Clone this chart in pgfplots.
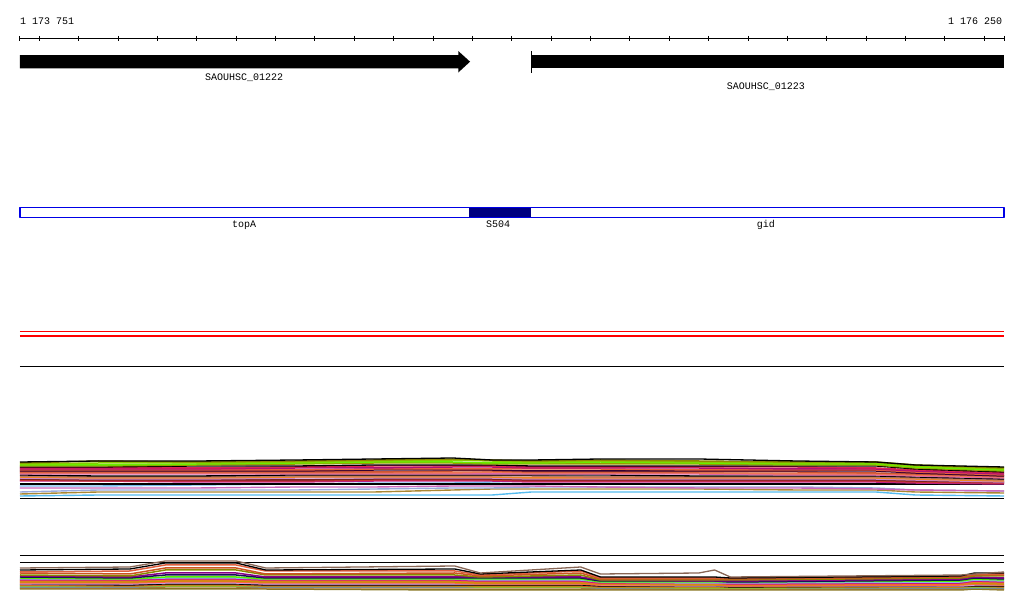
\documentclass[border=0pt]{standalone}
\usepackage{pgfplots}
\pgfplotsset{compat=1.18}
\usepackage{pgfplotstable}
\usepackage{fontspec}
\newfontfamily\lbl{Liberation Mono}

% x = genomic position - 1173750 (so 1 = 1 173 751, 2500 = 1 176 250); y = track row (pixels, top down)
\pgfplotstableread{
x    a1  a2  a3  a4  a5  a6  a7  a8  a9  a10 a11 a12 a13 a14 a15 a16 a17 a18 a19 a20 a21 a22 a23 a24 a25 a26
1    462 463 464 465 466 467 468 469 470 471 472 473 474 475 476 477 478 479 480 481 484 486 492 494 496 488
200  461 461 463 465 466 467 468 469 470 471 472 473 474 476 477 478 479 480 481 481 484 486 490 492 495 488
450  461 462 463 464 465 466 468 469 470 471 472 473 474 476 477 478 479 480 481 482 484 485 490 492 495 488
700  460 461 462 463 464 466 467 468 470 471 472 473 474 475 476 477 478 480 481 482 484 484 490 492 495 487
900  459 460 461 462 463 465 466 468 469 470 472 473 474 475 476 477 478 479 480 481 484 483 489 492 495 487
1100 458 459 460 462 463 465 466 467 469 470 471 473 474 475 476 477 478 479 480 481 484 483 488 490 495 486
1200 460 460 461 463 464 465 466 467 469 470 471 472 474 475 476 477 478 479 480 481 484 482 488 489 495 486
1300 460 461 462 463 464 466 467 468 469 471 472 473 474 475 476 478 479 480 481 482 484 481 487 489 492 486
1475 459 460 461 462 464 466 467 468 469 471 472 473 474 475 477 478 479 480 481 482 484 481 487 489 492 487
1725 459 461 462 463 464 466 467 468 470 471 472 473 474 476 477 478 479 480 481 482 484 481 487 489 492 488
1975 461 462 463 464 465 466 467 469 470 471 472 474 475 476 477 478 479 480 481 482 484 481 487 490 492 488
2175 462 462 463 464 465 466 468 469 470 471 473 474 475 476 477 478 479 480 481 482 484 481 488 490 492 489
2275 465 465 466 467 468 469 470 471 472 473 474 475 476 477 478 479 480 481 482 483 484 482 490 492 495 490
2500 467 468 469 470 471 472 473 474 475 476 476 477 478 479 480 481 482 482 483 484 484 483 491 493 496 491
}\trackA

\pgfplotstableread{
x    b1  b2  b3  b4  b5  b6  b7  b8  b9  b10 b11 b12 b13 b14 b15 b16 b17 b18 b19 b20
1    568 570 572 573 575 576 577 578 579 580 581 582 583 584 584 585 586 587 588 589
280  567 569 571 574 576 577 578 579 579 580 581 582 583 584 585 586 586 587 588 589
370  561 563 565 568 570 573 575 577 578 579 580 581 582 583 584 585 586 586 587 589
550  561 563 565 568 570 573 575 577 578 579 580 581 582 583 584 585 586 586 587 589
625  568 570 571 574 575 577 578 579 579 580 581 582 583 584 585 586 586 587 588 589
1105 566 569 571 573 575 577 578 579 579 580 581 582 583 584 585 586 586 587 588 590
1170 573 574 575 576 577 577 578 579 580 581 582 583 584 584 585 586 587 587 588 590
1425 567 570 571 573 575 577 578 579 580 581 582 583 584 584 585 586 587 587 588 590
1475 574 577 578 579 580 580 581 582 582 583 584 584 585 585 586 587 587 588 589 590
1725 573 577 578 579 580 581 581 582 583 583 584 585 585 586 586 587 588 588 589 590
1765 570 577 578 579 580 581 581 582 583 583 584 585 585 586 586 587 588 588 589 590
1805 577 578 578 579 580 581 582 582 583 584 585 585 586 586 587 587 588 588 589 590
2390 575 576 576 577 578 579 580 581 582 583 584 584 585 586 586 587 587 588 589 590
2425 574 573 574 575 576 577 578 579 580 581 582 583 584 585 586 586 587 588 588 589
2500 572 573 574 575 576 578 579 580 581 582 583 584 585 585 586 587 587 588 589 590
}\trackB

\definecolor{fblue}{RGB}{0,0,230}
\definecolor{fnavy}{RGB}{0,0,128}
\definecolor{fred}{RGB}{255,0,0}
\definecolor{cA2}{HTML}{8C8C00}
\definecolor{cA3}{HTML}{88CC00}
\definecolor{cA4}{HTML}{66EE00}
\definecolor{cA5}{HTML}{999900}
\definecolor{cA7}{HTML}{DD2255}
\definecolor{cA8}{HTML}{AA1177}
\definecolor{cA9}{HTML}{E8603C}
\definecolor{cA10}{HTML}{330033}
\definecolor{cA11}{HTML}{CC5533}
\definecolor{cA12}{HTML}{EE7755}
\definecolor{cA13}{HTML}{DD66AA}
\definecolor{cA15}{HTML}{BB7766}
\definecolor{cA16}{HTML}{EE8822}
\definecolor{cA17}{HTML}{CC88CC}
\definecolor{cA18}{HTML}{772222}
\definecolor{cA19}{HTML}{CC3333}
\definecolor{cA20}{HTML}{BB2288}
\definecolor{cA22}{HTML}{77BBEE}
\definecolor{cA23}{HTML}{99AADD}
\definecolor{cA24}{HTML}{AA8833}
\definecolor{cA25}{HTML}{55BBEE}
\definecolor{cA26}{HTML}{CC66BB}
\definecolor{cB1}{HTML}{886655}
\definecolor{cB3}{HTML}{E06040}
\definecolor{cB4}{HTML}{CC5522}
\definecolor{cB5}{HTML}{888800}
\definecolor{cB6}{HTML}{880088}
\definecolor{cB7}{HTML}{111155}
\definecolor{cB8}{HTML}{55EE00}
\definecolor{cB9}{HTML}{88BBEE}
\definecolor{cB10}{HTML}{CC1188}
\definecolor{cB11}{HTML}{EE7722}
\definecolor{cB12}{HTML}{BB9900}
\definecolor{cB13}{HTML}{FF6644}
\definecolor{cB14}{HTML}{CC99DD}
\definecolor{cB16}{HTML}{CC6622}
\definecolor{cB17}{HTML}{99CC00}
\definecolor{cB18}{HTML}{5599CC}
\definecolor{cB19}{HTML}{AA7733}
\definecolor{cB20}{HTML}{887722}

\begin{document}
\begin{tikzpicture}
\begin{axis}[
  scale only axis, width=1024pt, height=611pt,
  xmin=-49.79, xmax=2550.79, ymin=0, ymax=611, y dir=reverse,
  hide axis, clip=false,
  every axis plot/.append style={line join=round},
]
% ruler
\addplot[black, line width=1pt] coordinates {(1,38.3) (2500,38.3)};
\addplot[black, only marks, mark=|, mark size=2.5pt, mark options={line width=1pt}] coordinates {
(1,38.3) (50,38.3) (150,38.3) (250,38.3) (350,38.3) (450,38.3) (550,38.3) (650,38.3) (750,38.3)
(850,38.3) (950,38.3) (1050,38.3) (1150,38.3) (1250,38.3) (1350,38.3) (1450,38.3) (1550,38.3)
(1650,38.3) (1750,38.3) (1850,38.3) (1950,38.3) (2050,38.3) (2150,38.3) (2250,38.3) (2350,38.3)
(2450,38.3) (2500,38.3)};
\node[anchor=base west, inner sep=0pt, font=\lbl\fontsize{10}{12}\selectfont] at (axis cs:1,24) {1 173 751};
\node[anchor=base east, inner sep=0pt, font=\lbl\fontsize{10}{12}\selectfont] at (axis cs:2496,24) {1 176 250};

% genes
\addplot[fill=black, draw=none] coordinates {(1,55) (1114,55) (1114,51) (1144,61.7) (1114,72.5) (1114,68.3) (1,68.3)} -- cycle;
\addplot[fill=black, draw=none] coordinates {(1299,55) (2500,55) (2500,68.3) (1299,68.3)} -- cycle;
\addplot[black, line width=1pt] coordinates {(1299,51) (1299,72.5)};
\node[anchor=base, inner sep=0pt, font=\lbl\fontsize{10}{12}\selectfont] at (axis cs:570,80) {SAOUHSC\_01222};
\node[anchor=base, inner sep=0pt, font=\lbl\fontsize{10}{12}\selectfont] at (axis cs:1895,89) {SAOUHSC\_01223};

% features
\addplot[fill=fnavy, draw=none] coordinates {(1142,207.3) (1299,207.3) (1299,217.3) (1142,217.3)} -- cycle;
\addplot[draw=fblue, line width=1.8pt] coordinates {(1,207.5) (2500,207.5) (2500,217.5) (1,217.5)} -- cycle;
\node[anchor=base, inner sep=0pt, font=\lbl\fontsize{10}{12}\selectfont] at (axis cs:570,227.5) {topA};
\node[anchor=base, inner sep=0pt, font=\lbl\fontsize{10}{12}\selectfont] at (axis cs:1215,227.5) {S504};
\node[anchor=base, inner sep=0pt, font=\lbl\fontsize{10}{12}\selectfont] at (axis cs:1895,227.5) {gid};

% flat lines
\addplot[draw=fred, line width=1.3pt] coordinates {(1,331.5) (2500,331.5)};
\addplot[draw=fred, line width=1.8pt] coordinates {(1,335.8) (2500,335.8)};
\addplot[black, line width=1pt] coordinates {(1,366.3) (2500,366.3)};

% coverage track 1
\addplot[black, line width=1pt] coordinates {(1,499) (2500,499)};
\addplot[cA25, line width=1.4pt] table[x=x,y=a25] {\trackA};
\addplot[cA24, line width=1.4pt] table[x=x,y=a24] {\trackA};
\addplot[cA23, line width=1.4pt] table[x=x,y=a23] {\trackA};
\addplot[cA26, line width=1.4pt] table[x=x,y=a26] {\trackA};
\addplot[cA22, line width=1.4pt] table[x=x,y=a22] {\trackA};
\addplot[black, line width=1.3pt] table[x=x,y=a21] {\trackA};
\addplot[cA20, line width=1.5pt] table[x=x,y=a20] {\trackA};
\addplot[cA19, line width=1.5pt] table[x=x,y=a19] {\trackA};
\addplot[cA18, line width=1.5pt] table[x=x,y=a18] {\trackA};
\addplot[cA17, line width=1.5pt] table[x=x,y=a17] {\trackA};
\addplot[cA16, line width=1.5pt] table[x=x,y=a16] {\trackA};
\addplot[cA15, line width=1.5pt] table[x=x,y=a15] {\trackA};
\addplot[black, line width=1.3pt] table[x=x,y=a14] {\trackA};
\addplot[cA13, line width=1.5pt] table[x=x,y=a13] {\trackA};
\addplot[cA12, line width=1.5pt] table[x=x,y=a12] {\trackA};
\addplot[cA11, line width=1.5pt] table[x=x,y=a11] {\trackA};
\addplot[cA10, line width=1.5pt] table[x=x,y=a10] {\trackA};
\addplot[cA9, line width=1.5pt] table[x=x,y=a9] {\trackA};
\addplot[cA8, line width=1.5pt] table[x=x,y=a8] {\trackA};
\addplot[cA7, line width=1.5pt] table[x=x,y=a7] {\trackA};
\addplot[black, line width=1.3pt] table[x=x,y=a6] {\trackA};
\addplot[cA5, line width=1.5pt] table[x=x,y=a5] {\trackA};
\addplot[cA4, line width=1.5pt] table[x=x,y=a4] {\trackA};
\addplot[cA3, line width=1.5pt] table[x=x,y=a3] {\trackA};
\addplot[cA2, line width=1.5pt] table[x=x,y=a2] {\trackA};
\addplot[black, line width=1.3pt] table[x=x,y=a1] {\trackA};

% coverage track 2
\addplot[black, line width=1.2pt] coordinates {(1,555.5) (2500,555.5)};
\addplot[black, line width=1.2pt] coordinates {(1,562.3) (2500,562.3)};
\addplot[cB20, line width=1.5pt] table[x=x,y=b20] {\trackB};
\addplot[cB19, line width=1.5pt] table[x=x,y=b19] {\trackB};
\addplot[cB18, line width=1.5pt] table[x=x,y=b18] {\trackB};
\addplot[cB17, line width=1.5pt] table[x=x,y=b17] {\trackB};
\addplot[cB16, line width=1.5pt] table[x=x,y=b16] {\trackB};
\addplot[black, line width=1.3pt] table[x=x,y=b15] {\trackB};
\addplot[cB14, line width=1.5pt] table[x=x,y=b14] {\trackB};
\addplot[cB13, line width=1.5pt] table[x=x,y=b13] {\trackB};
\addplot[cB12, line width=1.5pt] table[x=x,y=b12] {\trackB};
\addplot[cB11, line width=1.5pt] table[x=x,y=b11] {\trackB};
\addplot[cB10, line width=1.5pt] table[x=x,y=b10] {\trackB};
\addplot[cB9, line width=1.5pt] table[x=x,y=b9] {\trackB};
\addplot[cB8, line width=1.5pt] table[x=x,y=b8] {\trackB};
\addplot[cB7, line width=1.5pt] table[x=x,y=b7] {\trackB};
\addplot[cB6, line width=1.5pt] table[x=x,y=b6] {\trackB};
\addplot[cB5, line width=1.5pt] table[x=x,y=b5] {\trackB};
\addplot[cB4, line width=1.5pt] table[x=x,y=b4] {\trackB};
\addplot[cB3, line width=1.5pt] table[x=x,y=b3] {\trackB};
\addplot[black, line width=1.3pt] table[x=x,y=b2] {\trackB};
\addplot[cB1, line width=1.3pt] table[x=x,y=b1] {\trackB};
\end{axis}
\path (current axis.south west) rectangle (current axis.north east);
\end{tikzpicture}
\end{document}
